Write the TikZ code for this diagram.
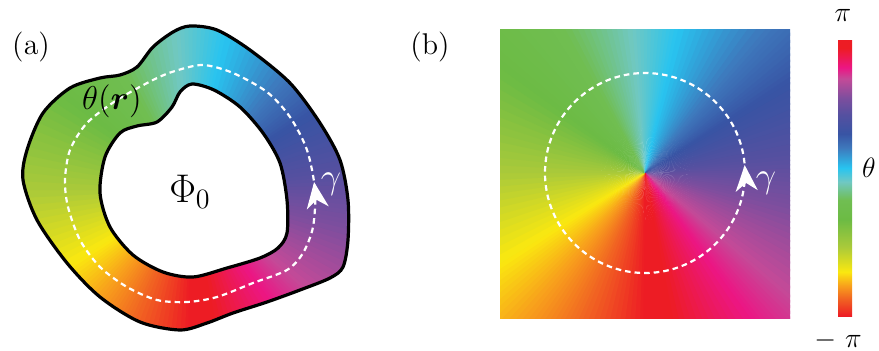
\documentclass[tikz,border=0pt]{standalone}
\usepackage{fix-cm}
\usepackage{amsmath,bm}
\usetikzlibrary{arrows.meta,decorations.markings}

\definecolor{cRed}{RGB}{237,28,36}
\definecolor{cOrR}{RGB}{241,101,34}
\definecolor{cOra}{RGB}{248,160,28}
\definecolor{cYel}{RGB}{250,232,16}
\definecolor{cYgr}{RGB}{170,202,58}
\definecolor{cGrn}{RGB}{108,187,68}
\definecolor{cGrnb}{RGB}{112,190,82}
\definecolor{cTeal}{RGB}{112,200,195}
\definecolor{cCyan}{RGB}{40,196,240}
\definecolor{cBlue}{RGB}{62,120,188}
\definecolor{cDblue}{RGB}{56,84,164}
\definecolor{cBpur}{RGB}{85,80,160}
\definecolor{cPur}{RGB}{125,78,158}
\definecolor{cPink}{RGB}{196,74,152}
\definecolor{cMag}{RGB}{236,22,132}

% phase colour bar, stops at 25bp + 50bp*s
\pgfdeclareverticalshading{thetabar}{100bp}{color(0bp)=(cRed); color(25bp)=(cRed);
  color(28.2bp)=(cOrR); color(30.5bp)=(cOra); color(33bp)=(cYel); color(37.5bp)=(cYgr);
  color(42.5bp)=(cGrn); color(46bp)=(cGrnb); color(49.3bp)=(cTeal); color(51.8bp)=(cCyan);
  color(55.5bp)=(cBlue); color(58bp)=(cDblue); color(61.5bp)=(cBpur); color(64.5bp)=(cPur);
  color(68bp)=(cPink); color(70bp)=(cMag); color(73.5bp)=(cRed); color(100bp)=(cRed)}

% conic phase wheel: #1 centre, #2 radius
\newcommand{\phasewedges}[2]{%
  \foreach \pa/\pb/\ca/\cb in {0/23/cRed/cOrR, 23/40/cOrR/cOra, 40/58/cOra/cYel,
      58/90/cYel/cYgr, 90/126/cYgr/cGrn, 126/151/cGrn/cGrnb, 151/175/cGrnb/cTeal,
      175/193/cTeal/cCyan, 193/220/cCyan/cBlue, 220/238/cBlue/cDblue, 238/263/cDblue/cBpur,
      263/284/cBpur/cPur, 284/310/cPur/cPink, 310/324/cPink/cMag, 324/349/cMag/cRed,
      349/360/cRed/cRed}{%
    \foreach \k in {0,...,11}{%
      \pgfmathsetmacro{\wa}{-90-\pa-(\pb-\pa)*\k/12}%
      \pgfmathsetmacro{\wb}{\wa-(\pb-\pa)/12-0.6}%
      \pgfmathsetmacro{\wp}{round((\k+0.5)*100/12)}%
      \fill[fill={\cb!\wp!\ca}] (#1) -- +(\wa:#2) -- +(\wb:#2) -- cycle;
    }%
  }%
}

\newcommand{\ringouter}{plot[smooth cycle] coordinates {(180,20) (140,28) (100,53) (67,87)
  (37,130) (23,170) (27,200) (43,237) (70,262) (100,272) (120,275) (137,283) (153,303)
  (173,318) (190,324) (217,320) (250,300) (290,267) (320,227) (340,190) (348,150) (348,110)
  (343,83) (330,72) (300,60) (267,48) (233,37) (207,27)}}
\newcommand{\ringinner}{plot[smooth cycle] coordinates {(192,266) (214,260) (240,243)
  (263,217) (280,187) (287,150) (287,117) (278,102) (260,92) (227,82) (193,73) (163,78)
  (133,95) (110,123) (100,157) (105,193) (120,217) (137,224) (157,228) (172,243) (180,258)}}

\begin{document}
\begin{tikzpicture}[x=0.5pt, y=0.5pt,
    ring/.style={draw=black, line width=1.6pt},
    gammaloop/.style={draw=white, line width=1.1pt, dash pattern=on 2.8pt off 2pt},
    loopmark/.style={postaction={decorate}, decoration={markings,
        mark=at position 4pt with {\arrow[white]{Stealth[length=13pt, width=11pt, inset=4pt]}}}},
    panel/.style={font=\fontsize{15}{18}\selectfont},
    barlabel/.style={font=\fontsize{14}{17}\selectfont}]
  \useasboundingbox (0,0) rectangle (879,350);
  \coordinate (ringc) at (190,160);
  \coordinate (wheelc) at (645,177);

  % (a) ring around the flux
  \begin{scope}
    \clip \ringouter;
    \phasewedges{ringc}{230}
  \end{scope}
  \fill[white] \ringinner;
  \draw[ring] \ringouter;
  \draw[ring] \ringinner;
  \draw[gammaloop, loopmark] plot[smooth cycle] coordinates {(313,123) (315,160) (307,200)
    (290,233) (267,258) (233,277) (203,285) (175,279) (153,270) (117,250) (87,227) (70,200)
    (65,170) (68,143) (80,110) (100,83) (127,63) (157,50) (187,48) (217,53) (253,67)
    (287,80) (303,97)};

  % (b) vortex
  \begin{scope}
    \clip (500,32) rectangle (790,321);
    \phasewedges{wheelc}{230}
  \end{scope}
  \draw[gammaloop, loopmark] (wheelc) circle[radius=100];

  % colour bar
  \shade[shading=thetabar] (838,34) rectangle (852,310);

  \node[panel] (lbla) at (31,303) {$(\mathrm{a})$};
  \node[panel] (lblb) at (430,303) {$(\mathrm{b})$};
  \node[font=\fontsize{16.5}{19}\selectfont] (thetar) at (112,249) {$\theta(\bm{r})$};
  \node[font=\fontsize{20}{23}\selectfont] (phizero) at (190,158) {$\Phi_0$};
  \node[white, font=\fontsize{18}{21}\selectfont] (gammaa) at (331,166) {$\gamma$};
  \node[white, font=\fontsize{18}{21}\selectfont] (gammab) at (766,167) {$\gamma$};
  \node[barlabel] (piup) at (843,335) {$\pi$};
  \node[barlabel] (pidown) at (838,10) {$-\ \pi$};
  \node[barlabel] (thetalbl) at (869,182) {$\theta$};
\end{tikzpicture}
\end{document}
